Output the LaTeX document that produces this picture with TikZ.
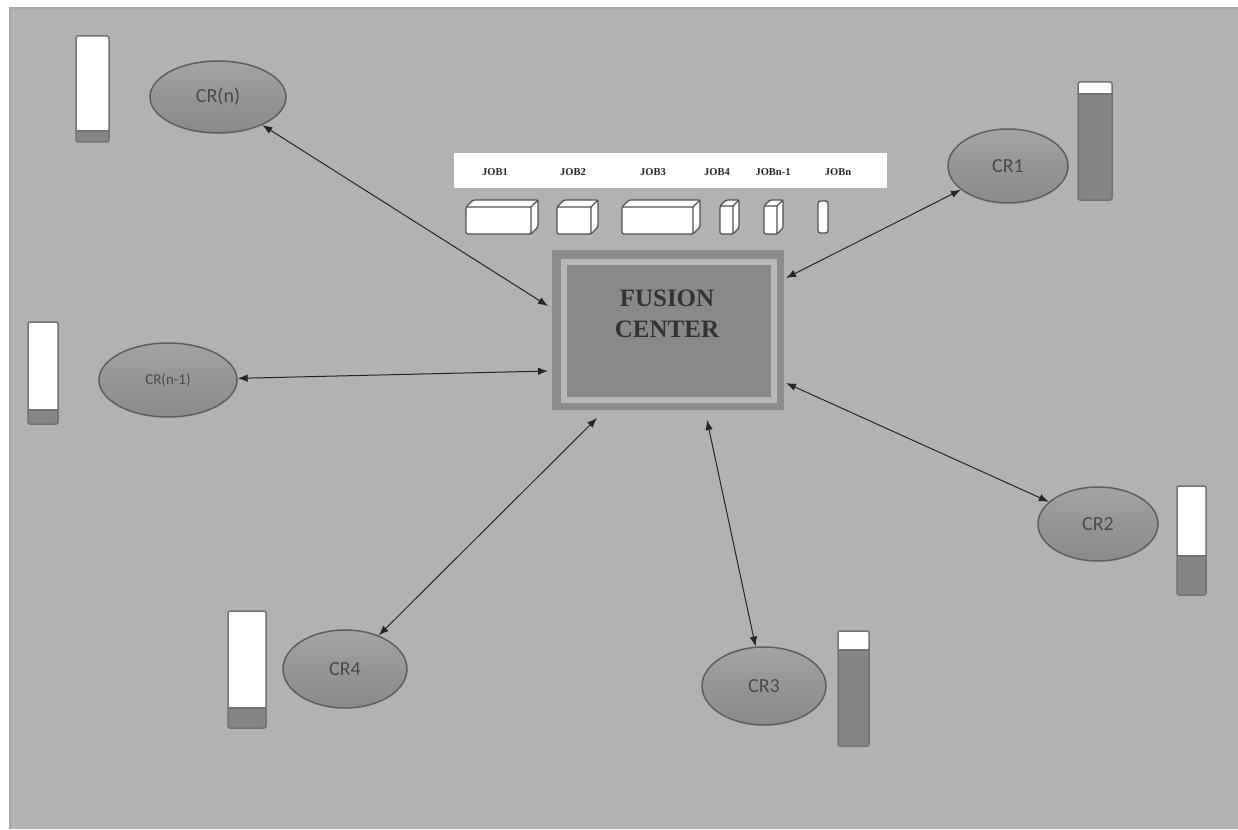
\documentclass[tikz,border=0pt]{standalone}
\usepackage{fontspec}
\setmainfont{Liberation Serif}
\newfontfamily\crfont{Carlito}
\usetikzlibrary{arrows.meta,shapes.geometric}
\definecolor{panel}{HTML}{B2B2B2}
\definecolor{fcouter}{HTML}{8C8C8C}
\definecolor{fcstrip}{HTML}{B8B8B8}
\definecolor{fcinner}{HTML}{898989}
\definecolor{edge}{HTML}{505050}
\definecolor{barfill}{HTML}{858585}
\definecolor{crtext}{HTML}{4A4A4A}
\definecolor{elltop}{HTML}{A4A4A4}
\definecolor{ellmid}{HTML}{959595}
\definecolor{ellbot}{HTML}{8A8A8A}
\definecolor{elledge}{HTML}{5E5E5E}
\newcommand\jobbox[5]{%
  \draw[edge,line width=1.3pt,fill=white,rounded corners=1.5pt]
    (#1,{#3+#5}) -- ({#1+#5},#3) -- ({#2+#5},#3) -- ({#2+#5},{#4-#5}) -- (#2,#4) -- (#1,#4) -- cycle;
  \draw[edge,line width=1.1pt] (#1,{#3+#5}) -- (#2,{#3+#5}) -- ({#2+#5},#3) (#2,{#3+#5}) -- (#2,#4);
}
\newcommand\crbar[5]{% x0 x1 y0 ysplit y1
  \fill[white] (#1,#3) rectangle (#2,#4);
  \fill[barfill] (#1,#4) rectangle (#2,#5);
  \draw[edge!80,line width=1.2pt] (#1,#4) -- (#2,#4);
  \draw[edge!80,line width=1.5pt,rounded corners=2pt] (#1,#3) rectangle (#2,#5);
}
\tikzset{
  crnode/.style={ellipse,draw=elledge,line width=1.5pt,top color=elltop,bottom color=ellbot,
    middle color=ellmid,inner sep=0pt,text=crtext,font=\crfont\fontsize{20}{22}\selectfont},
  link/.style={{Latex[length=10pt,width=7.5pt]}-{Latex[length=10pt,width=7.5pt]},line width=1pt,draw=black!85},
  joblabel/.style={font=\bfseries\fontsize{10.5}{11}\selectfont,text=black!85,inner sep=0pt}
}
\begin{document}
\begin{tikzpicture}[x=1pt,y=-1pt]
\useasboundingbox (0,0) rectangle (1238,829);
\fill[white] (0,0) rectangle (1238,829);
\fill[panel] (10,8) rectangle (1238,829);
\draw[gray!70,line width=1.2pt] (10,829) -- (10,8) -- (1238,8);

% fusion center
\node[draw=none,fill=fcouter,minimum width=232pt,minimum height=160pt,inner sep=0pt] (fc) at (668,330) {};
\fill[fcstrip] (561,259) rectangle (777,403);
\fill[fcinner] (567,265) rectangle (771,397);
\node[font=\bfseries\fontsize{25}{31}\selectfont,text=black!80,align=center] (fctext) at (667,314) {FUSION\\CENTER};

% job strip
\node[fill=white,minimum width=433pt,minimum height=35pt,inner sep=0pt] (jobs) at (670.5,170.5) {};
\node[joblabel] (j1) at (495,172) {JOB1};
\node[joblabel] (j2) at (573,172) {JOB2};
\node[joblabel] (j3) at (653,172) {JOB3};
\node[joblabel] (j4) at (717,172) {JOB4};
\node[joblabel] (j5) at (773,172) {JOBn-1};
\node[joblabel] (j6) at (838,172) {JOBn};
\jobbox{466}{531}{200}{234}{7}
\jobbox{557}{591}{200}{234}{7}
\jobbox{622}{693}{200}{234}{7}
\jobbox{720}{733}{200}{234}{6}
\jobbox{764}{777}{200}{234}{6}
\draw[edge,line width=1.3pt,fill=white,rounded corners=2.5pt] (818,201) rectangle (828,233);

% CR nodes
\node[crnode,minimum width=136pt,minimum height=72pt] (crn) at (218,97) {CR(n)};
\node[crnode,minimum width=120pt,minimum height=74pt] (cr1) at (1008,166) {CR1};
\node[crnode,minimum width=138pt,minimum height=74pt,font=\crfont\fontsize{15}{17}\selectfont] (crn1) at (168,380) {CR(n-1)};
\node[crnode,minimum width=120pt,minimum height=74pt] (cr2) at (1098,524) {CR2};
\node[crnode,minimum width=124pt,minimum height=78pt] (cr4) at (345,669) {CR4};
\node[crnode,minimum width=124pt,minimum height=78pt] (cr3) at (764,686) {CR3};

% bars
\crbar{76}{109}{36}{131}{142}
\crbar{1078}{1112}{82}{94}{200}
\crbar{28}{58}{322}{410}{424}
\crbar{1177}{1206}{486}{556}{595}
\crbar{228}{266}{611}{708}{728}
\crbar{838}{869}{631}{650}{746}

% connectors
\coordinate (pn) at (548,306);
\coordinate (p1) at (786,278);
\coordinate (pn1) at (548,371);
\coordinate (p2) at (786,383);
\coordinate (p3) at (707,420);
\coordinate (p4) at (597,418);
\draw[link] (crn) -- (pn);
\draw[link] (cr1) -- (p1);
\draw[link] (crn1) -- (pn1);
\draw[link] (cr2) -- (p2);
\draw[link] (cr3) -- (p3);
\draw[link] (cr4) -- (p4);
\end{tikzpicture}
\end{document}
